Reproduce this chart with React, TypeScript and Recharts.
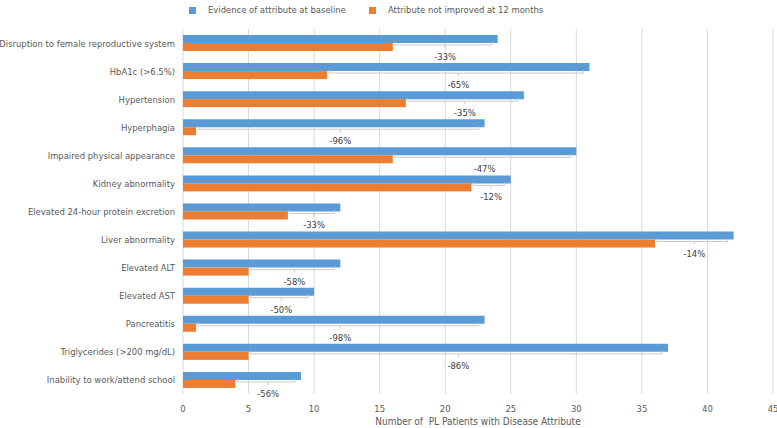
import React from "react";
import { BarChart, Bar, XAxis, YAxis, CartesianGrid, Legend } from "recharts";

const categories = [
  "Disruption to female reproductive system",
  "HbA1c (>6.5%)",
  "Hypertension",
  "Hyperphagia",
  "Impaired physical appearance",
  "Kidney abnormality",
  "Elevated 24-hour protein excretion",
  "Liver abnormality",
  "Elevated ALT",
  "Elevated AST",
  "Pancreatitis",
  "Triglycerides (>200 mg/dL)",
  "Inability to work/attend school",
];
const baselineValues = [24, 31, 26, 23, 30, 25, 12, 42, 12, 10, 23, 37, 9];
const notImprovedValues = [16, 11, 17, 1, 16, 22, 8, 36, 5, 5, 1, 5, 4];
const changeLabels = ["-33%", "-65%", "-35%", "-96%", "-47%", "-12%", "-33%", "-14%", "-58%", "-50%", "-98%", "-86%", "-56%"];
const xTicks = [0, 5, 10, 15, 20, 25, 30, 35, 40, 45];

const seriesNames = ["Evidence of attribute at baseline", "Attribute not improved at 12 months"];
const BLUE = "#5B9BD5";
const ORANGE = "#ED7D31";
const FONT = "'DejaVu Sans Condensed', 'DejaVu Sans', sans-serif";
const FS = 9.4;

const data = categories.map((name, i) => ({
  name,
  baseline: baselineValues[i],
  after: notImprovedValues[i],
  change: changeLabels[i],
}));

const OrangeShape = (props: any) => {
  const { x, y, width, height, payload, fill } = props;
  const ppu = width / payload.after;
  const blueEnd = x + payload.baseline * ppu;
  const start = x + width + 2;
  const end = blueEnd - 6;
  const ly = y + 2;
  const mid = (x + width + blueEnd) / 2;
  return (
    <g>
      <rect x={x} y={y} width={width} height={height} fill={fill} />
      <path
        d={`M${start},${ly - 3} L${start},${ly} L${end},${ly} L${end},${ly - 3} M${mid},${ly} L${mid},${ly + 3}`}
        stroke="#C9C9C9"
        strokeWidth={1}
        fill="none"
      />
      <text x={mid} y={ly + 15} textAnchor="middle" fontSize={FS} fill="#404040" fontFamily={FONT}>
        {payload.change}
      </text>
    </g>
  );
};

const YTick = (props: any) => {
  const { x, y, payload } = props;
  return (
    <text x={175} y={y} dy={3.5} textAnchor="end" fontSize={FS} fill="#595959" fontFamily={FONT}>
      {payload.value}
    </text>
  );
};

const renderLegend = () => (
  <div
    style={{
      height: 29,
      position: "relative",
      fontFamily: FONT,
      fontSize: FS,
      color: "#595959",
    }}
  >
    {seriesNames.map((n, i) => (
      <div
        key={n}
        style={{
          position: "absolute",
          left: i === 0 ? 189 : 369,
          top: 4,
          display: "flex",
          alignItems: "center",
          whiteSpace: "nowrap",
          lineHeight: "12px",
        }}
      >
        <span
          style={{
            display: "inline-block",
            width: 7,
            height: 7,
            background: i === 0 ? BLUE : ORANGE,
            marginRight: 12,
          }}
        />
        <span>{n}</span>
      </div>
    ))}
  </div>
);

const AxisTitle = (props: any) => {
  const { viewBox } = props;
  const cx = viewBox.x + viewBox.width / 2;
  return (
    <text
      x={cx}
      y={425}
      textAnchor="middle"
      fontSize={10}
      fill="#595959"
      fontFamily={FONT}
      style={{ whiteSpace: "pre" }}
    >
      {"Number of  PL Patients with Disease Attribute"}
    </text>
  );
};

export default function App() {
  return (
    <div style={{ width: 777, height: 428, background: "#fff" }}>
      <style>{"body{margin:0;}"}</style>
      <BarChart
        width={777}
        height={428}
        data={data}
        layout="vertical"
        margin={{ top: 0, right: 4, bottom: 0, left: 0 }}
        barGap={0}
      >
        <CartesianGrid horizontal={false} stroke="#D9D9D9" />
        <XAxis
          type="number"
          domain={[0, 45]}
          ticks={xTicks}
          interval={0}
          axisLine={false}
          tickLine={false}
          tickMargin={5}
          tick={{ fontSize: FS, fill: "#595959", fontFamily: FONT }}
          height={34}
          label={<AxisTitle />}
        />
        <YAxis
          type="category"
          dataKey="name"
          width={183}
          axisLine={false}
          tickLine={false}
          interval={0}
          tick={<YTick />}
        />
        <Legend verticalAlign="top" content={renderLegend} />
        <Bar dataKey="baseline" name={seriesNames[0]} fill={BLUE} barSize={8} isAnimationActive={false} />
        <Bar
          dataKey="after"
          name={seriesNames[1]}
          fill={ORANGE}
          barSize={8}
          isAnimationActive={false}
          shape={<OrangeShape />}
        />
      </BarChart>
    </div>
  );
}
